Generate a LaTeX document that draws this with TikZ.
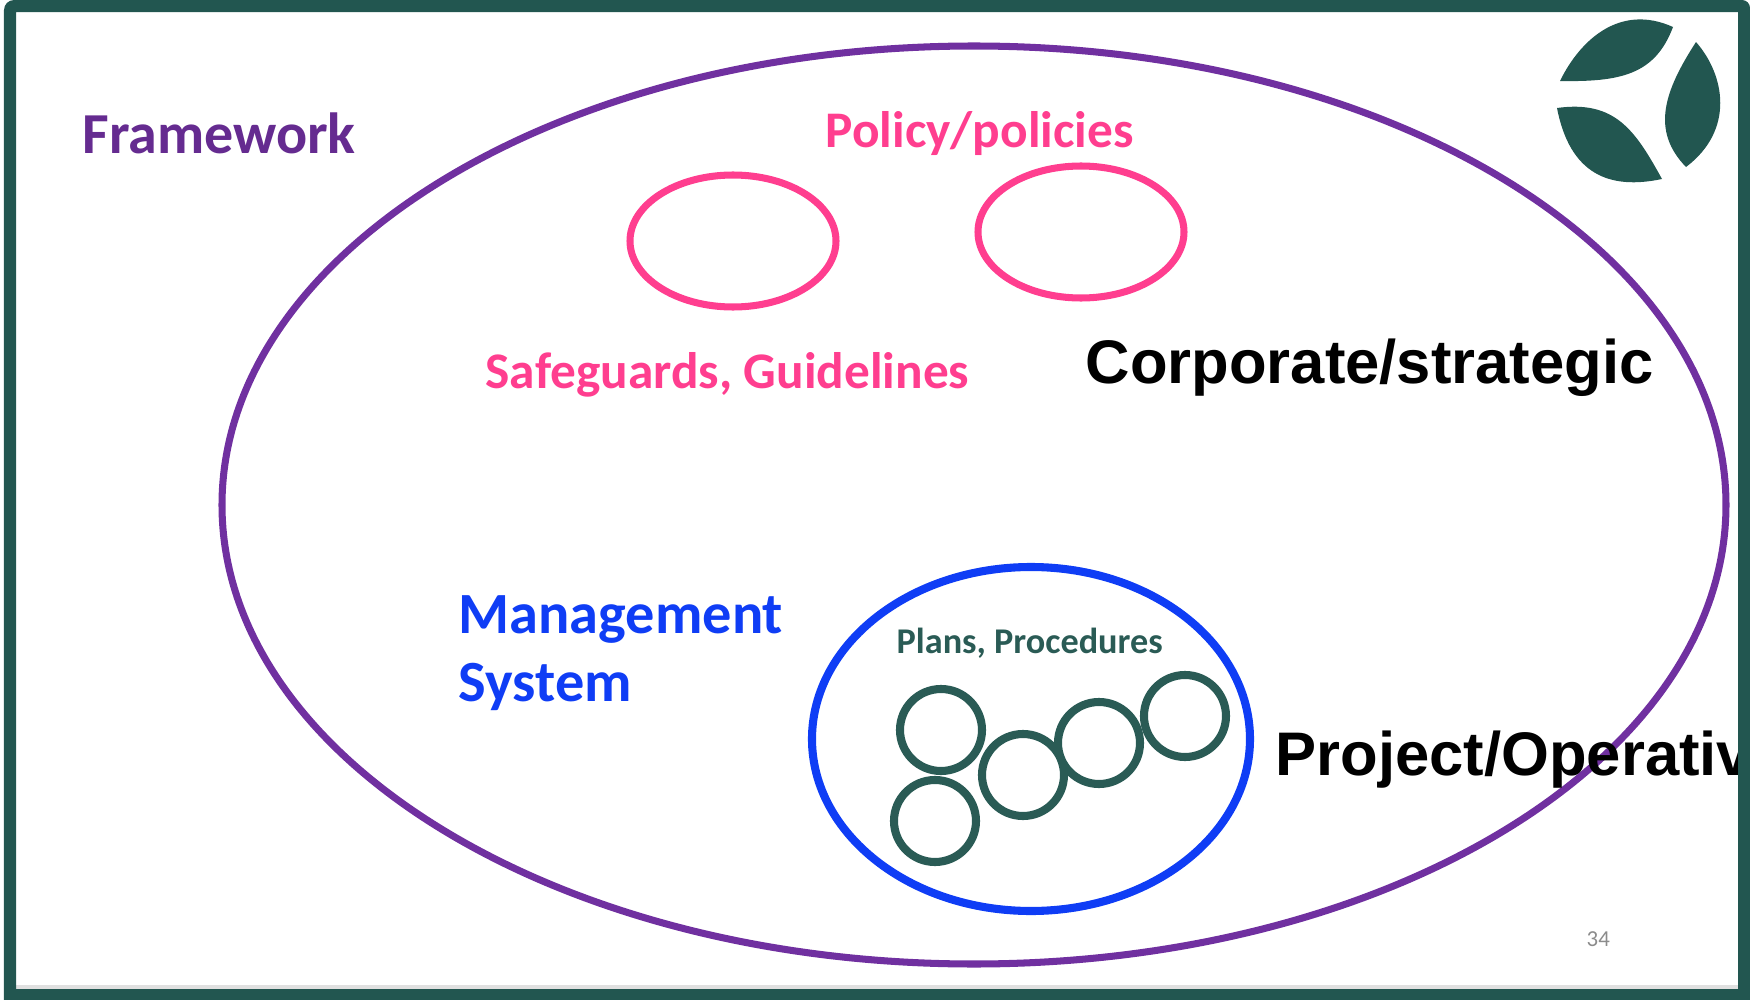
\documentclass[tikz,border=0pt]{standalone}
\usepackage{fontspec}
\setmainfont{Carlito}
\newfontfamily\headfont{Liberation Sans}
\definecolor{framegreen}{HTML}{225650}
\definecolor{purpleline}{HTML}{7030A0}
\definecolor{pinkline}{HTML}{FF3E8F}
\definecolor{blueline}{HTML}{0F3DF5}
\definecolor{darkgreen}{HTML}{2A5B55}
\tikzset{
	label/.style={anchor=base west,inner sep=0pt,font=\bfseries\fontsize{14.6}{17}\selectfont},
	bigtext/.style={anchor=base west,inner sep=0pt,text=black,font=\headfont\bfseries\fontsize{17.5}{20}\selectfont},
	smallring/.style={draw=darkgreen,line width=2.3pt}
}
\begin{document}
\begin{tikzpicture}[x=0.01cm,y=-0.01cm]
			\useasboundingbox (0,0) rectangle (1750,1000);
			\draw [line width=2pt,draw=purpleline] (974,505) ellipse (752 and 459);
			\draw [line width=2pt,draw=pinkline] (733,241) ellipse (103 and 66);
			\draw [line width=2pt,draw=pinkline] (1081,232) ellipse (103 and 66);
			\draw [line width=2.3pt,draw=blueline] (1031,739) ellipse (219 and 172);
			\draw [smallring] (941,730) circle (41);
			\draw [smallring] (1023,775) circle (41);
			\draw [smallring] (1099,743) circle (41);
			\draw [smallring] (1185,716) circle (41);
			\draw [smallring] (935,821) circle (41);
			\node [label,text=purpleline!90!black,font=\bfseries\fontsize{16.5}{19}\selectfont] (framework) at (82,153) {Framework};
			\node [label,text=pinkline] (policy) at (825,147) {Policy/policies};
			\node [label,text=pinkline] (safeguards) at (485,388) {Safeguards, Guidelines};
			\node [label,text=blueline,font=\bfseries\fontsize{16.6}{19}\selectfont] (management) at (458,633) {Management};
			\node [label,text=blueline,font=\bfseries\fontsize{16.6}{19}\selectfont] (system) at (458,701) {System};
			\node [label,text=darkgreen,font=\bfseries\fontsize{10.3}{12}\selectfont] (plans) at (896,653) {Plans, Procedures};
			\node [bigtext] (corporate) at (1085,383) {Corporate/strategic};
			\node [bigtext] (project) at (1275,775) {Project/Operativ};
			\node [anchor=base west,inner sep=0pt,text=black!45,font=\fontsize{6.5}{8}\selectfont] (pagenum) at (1586,946) {34};
			\fill [framegreen] (1560,81) .. controls (1580,40) and (1620,3) .. (1673,27) .. controls (1655,75) and (1620,82) .. (1560,81) -- cycle;
			\fill [framegreen] (1696,42) .. controls (1725,75) and (1735,130) .. (1686,167) .. controls (1650,130) and (1665,90) .. (1696,42) -- cycle;
			\fill [framegreen] (1557,108) .. controls (1615,100) and (1635,130) .. (1662,179) .. controls (1610,190) and (1570,175) .. (1557,108) -- cycle;
			\fill [black!12] (16,985) rectangle (1738,990);
			\fill [framegreen,even odd rule] (4,1000) -- (4,10) to[out=90,in=180] (14,0) -- (1742,0) to[out=0,in=90] (1750,8) -- (1750,1000) -- cycle (16,12) rectangle (1738,989);
		\end{tikzpicture}
\end{document}
